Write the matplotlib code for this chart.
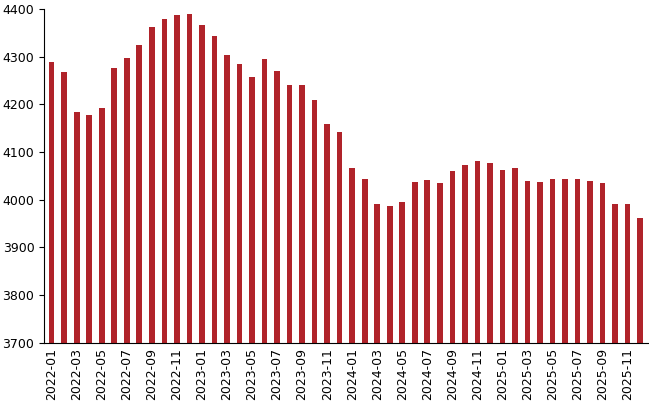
import matplotlib
matplotlib.use('Agg')
import matplotlib.pyplot as plt

months = [f"{y}-{m:02d}" for y in range(2022, 2026) for m in range(1, 13)]
values = [4289, 4268, 4184, 4178, 4192, 4276, 4297, 4325, 4362, 4379, 4388, 4390,
          4366, 4343, 4304, 4285, 4257, 4295, 4270, 4241, 4240, 4209, 4159, 4142,
          4067, 4043, 3991, 3987, 3996, 4037, 4041, 4036, 4060, 4073, 4081, 4078,
          4062, 4066, 4039, 4037, 4043, 4043, 4043, 4039, 4035, 3991, 3991, 3962]

fig = plt.figure(figsize=(6.49, 4.12), dpi=100)
ax = fig.add_axes([0.068, 0.168, 0.93, 0.81])
x = list(range(len(months)))
ax.bar(x, values, width=0.45, color='#B0232A')
ax.set_ylim(3700, 4400)
ax.set_yticks(range(3700, 4401, 100))
ax.set_xlim(-0.6, len(months) - 0.4)
ax.set_xticks(x[::2])
ax.set_xticklabels(months[::2], rotation=90, fontsize=9)
ax.tick_params(axis='y', labelsize=9)
ax.tick_params(axis='x', length=0)
for s in ['top', 'right']:
    ax.spines[s].set_visible(False)
fig.savefig('out.png')
